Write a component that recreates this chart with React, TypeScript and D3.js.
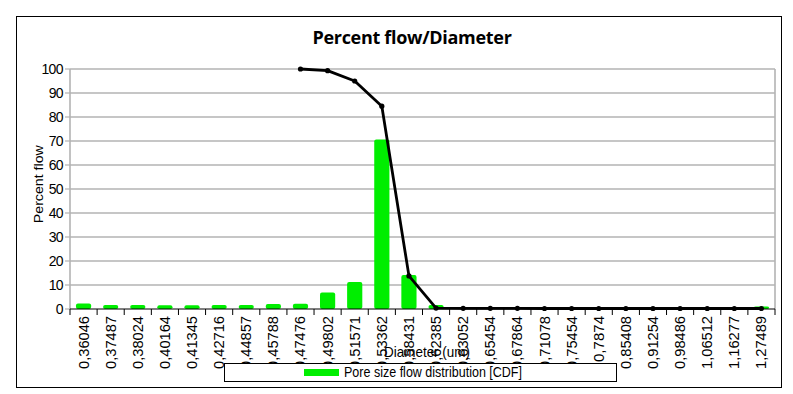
import { useEffect, useRef } from "react";
import * as d3 from "d3";

// diameter classes (um), as printed on the x axis
const diameters = [
  "0,36046", "0,37487", "0,38024", "0,40164", "0,41345", "0,42716",
  "0,44857", "0,45788", "0,47476", "0,49802", "0,51571", "0,53362",
  "0,58431", "0,62385", "0,63052", "0,65454", "0,67864", "0,71078",
  "0,75454", "0,7874", "0,85408", "0,91254", "0,98486", "1,06512",
  "1,16277", "1,27489",
];

// pore size flow distribution (bars)
const flowDistribution = [
  1.7, 1.0, 1.0, 0.9, 0.9, 1.0, 1.0, 1.5, 1.6, 6.2, 10.6, 70, 13.5, 1.0,
  0, 0, 0, 0, 0, 0, 0, 0, 0, 0, 0, 0.4,
];

// cumulative percent flow (line), starts at 0,47476
const cumulativeFlow: (number | null)[] = [
  null, null, null, null, null, null, null, null,
  100, 99.3, 95, 84.5, 13.8, 0.4, 0.3, 0.3, 0.3, 0.2, 0.2, 0.2, 0.2, 0.2,
  0.2, 0.2, 0.2, 0.2,
];

const yTicks = [0, 10, 20, 30, 40, 50, 60, 70, 80, 90, 100];

export default function App() {
  const svgRef = useRef<SVGSVGElement>(null);

  useEffect(() => {
    const width = 793;
    const height = 394;
    const margin = { top: 69, right: 18, bottom: 85, left: 70 };
    const font = "'Liberation Sans', Arial, sans-serif";

    const svg = d3.select(svgRef.current);
    svg.selectAll("*").remove();
    svg.attr("width", width).attr("height", height).style("background", "#fff");

    // outer frame
    svg
      .append("rect")
      .attr("x", 16.5)
      .attr("y", 16.5)
      .attr("width", 765)
      .attr("height", 371)
      .attr("fill", "none")
      .attr("stroke", "#000")
      .attr("stroke-width", 1);

    svg
      .append("text")
      .attr("x", 412)
      .attr("y", 44)
      .attr("text-anchor", "middle")
      .style("font-family", "'Open Sans', sans-serif")
      .style("font-weight", "bold")
      .style("font-size", "18px")
      .style("letter-spacing", "-0.3px")
      .text("Percent flow/Diameter");

    const xScale = d3
      .scaleBand()
      .domain(diameters)
      .range([margin.left, width - margin.right]);

    const yScale = d3
      .scaleLinear()
      .domain([0, 100])
      .range([height - margin.bottom, margin.top]);

    const x0 = margin.left;
    const x1 = width - margin.right;

    // horizontal grid
    svg
      .append("g")
      .selectAll("line")
      .data(yTicks.filter((t) => t > 0))
      .enter()
      .append("line")
      .attr("x1", x0)
      .attr("x2", x1)
      .attr("y1", (d) => yScale(d))
      .attr("y2", (d) => yScale(d))
      .attr("stroke", "#b3b3b3")
      .attr("stroke-width", 1.6);

    // left axis + right edge
    [x0, x1].forEach((x) => {
      svg
        .append("line")
        .attr("x1", x)
        .attr("x2", x)
        .attr("y1", yScale(100))
        .attr("y2", yScale(0))
        .attr("stroke", "#b3b3b3")
        .attr("stroke-width", 1.6);
    });

    // y ticks & labels
    const yAxis = svg.append("g");
    yTicks.forEach((t) => {
      yAxis
        .append("line")
        .attr("x1", x0 - 5)
        .attr("x2", x0)
        .attr("y1", yScale(t))
        .attr("y2", yScale(t))
        .attr("stroke", "#b3b3b3")
        .attr("stroke-width", 1.2);
      yAxis
        .append("text")
        .attr("x", x0 - 7)
        .attr("y", yScale(t))
        .attr("dy", "0.35em")
        .attr("text-anchor", "end")
        .style("font-family", font)
        .style("font-size", "14px")
        .style("letter-spacing", "-0.6px")
        .text(t);
    });

    svg
      .append("text")
      .attr("transform", `translate(43, ${yScale(52)}) rotate(-90)`)
      .attr("text-anchor", "middle")
      .attr("textLength", 78)
      .attr("lengthAdjust", "spacingAndGlyphs")
      .style("font-family", font)
      .style("font-size", "13px")
      .text("Percent flow");

    // bars
    const barW = xScale.bandwidth() * 0.56;
    svg
      .append("g")
      .selectAll("rect")
      .data(flowDistribution)
      .enter()
      .append("rect")
      .attr("x", (_, i) => xScale(diameters[i])! + (xScale.bandwidth() - barW) / 2)
      .attr("y", (d) => yScale(d) - 1.5)
      .attr("width", barW)
      .attr("height", (d) => yScale(0) - yScale(d) + 1.5)
      .attr("rx", 2)
      .attr("fill", "#00ee00");

    // x axis
    const xAxis = svg.append("g");
    xAxis
      .append("line")
      .attr("x1", x0)
      .attr("x2", x1)
      .attr("y1", yScale(0))
      .attr("y2", yScale(0))
      .attr("stroke", "#000")
      .attr("stroke-width", 1);
    d3.range(diameters.length + 1).forEach((i) => {
      const x = x0 + i * xScale.step();
      xAxis
        .append("line")
        .attr("x1", x)
        .attr("x2", x)
        .attr("y1", yScale(0))
        .attr("y2", yScale(0) + 6)
        .attr("stroke", "#000")
        .attr("stroke-width", 1);
    });
    diameters.forEach((d) => {
      const cx = xScale(d)! + xScale.bandwidth() / 2;
      xAxis
        .append("text")
        .attr("transform", `translate(${cx + 5}, 316) rotate(-90)`)
        .attr("text-anchor", "end")
        .attr("textLength", d.length === 6 ? 46 : 53)
        .attr("lengthAdjust", "spacingAndGlyphs")
        .style("font-family", font)
        .style("font-size", "15px")
        .text(d);
    });

    // cumulative line
    const pts = cumulativeFlow
      .map((v, i) => ({ v, i }))
      .filter((p) => p.v !== null) as { v: number; i: number }[];
    const cx = (i: number) => xScale(diameters[i])! + xScale.bandwidth() / 2;
    const line = d3
      .line<{ v: number; i: number }>()
      .x((p) => cx(p.i))
      .y((p) => yScale(p.v));
    svg
      .append("path")
      .datum(pts)
      .attr("d", line)
      .attr("fill", "none")
      .attr("stroke", "#000")
      .attr("stroke-width", 2.8)
      .attr("stroke-linejoin", "round");
    svg
      .append("g")
      .selectAll("circle")
      .data(pts)
      .enter()
      .append("circle")
      .attr("cx", (p) => cx(p.i))
      .attr("cy", (p) => yScale(p.v))
      .attr("r", 2.6)
      .attr("fill", "#000");

    // x axis title
    svg
      .append("text")
      .attr("x", 427)
      .attr("y", 357)
      .attr("text-anchor", "middle")
      .attr("textLength", 86)
      .attr("lengthAdjust", "spacingAndGlyphs")
      .style("font-family", font)
      .style("font-size", "15px")
      .text("Diameter (um)");

    // legend
    const legend = svg.append("g");
    legend
      .append("rect")
      .attr("x", 224.5)
      .attr("y", 363.5)
      .attr("width", 392)
      .attr("height", 18)
      .attr("fill", "#fff")
      .attr("stroke", "#000")
      .attr("stroke-width", 1);
    legend
      .append("rect")
      .attr("x", 304)
      .attr("y", 369)
      .attr("width", 35)
      .attr("height", 7)
      .attr("fill", "#00ee00");
    legend
      .append("text")
      .attr("x", 344)
      .attr("y", 377)
      .attr("textLength", 178)
      .attr("lengthAdjust", "spacingAndGlyphs")
      .style("font-family", font)
      .style("font-size", "14px")
      .text("Pore size flow distribution [CDF]");
  }, []);

  return (
    <svg
      ref={svgRef}
      style={{ position: "absolute", left: 0, top: 0, display: "block" }}
    ></svg>
  );
}
